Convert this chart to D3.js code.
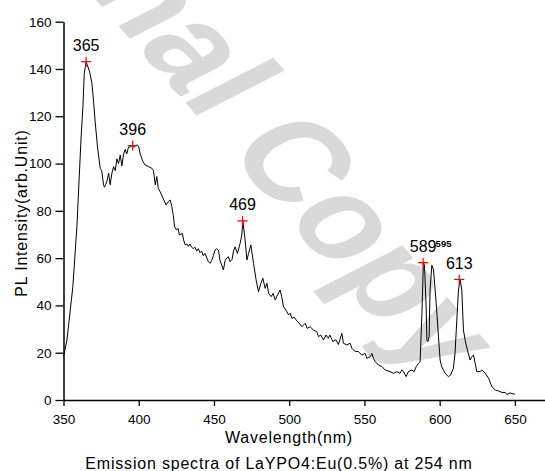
<!DOCTYPE html>
<html>
<head>
<meta charset="utf-8">
<script src="https://cdn.jsdelivr.net/npm/d3@7"></script>
<style>
  html, body { margin: 0; padding: 0; background: #fff; }
  svg { display: block; font-family: Arial, 'Liberation Sans', sans-serif; }
</style>
</head>
<body>
<div id="chart"></div>
<script>
// spectrum
const wavelength = [
  350, 352.3, 356.2, 358.9, 361.6, 362.9, 363.8, 365, 367.3, 368.9, 370, 371, 372.6, 374.4, 375.4,
  376.6, 377.2, 378.8, 380, 381, 382.2, 383.3, 384.4, 385.5, 386.6, 387.7, 388.8, 389.9, 391, 392,
  393.2, 394.3, 395.4, 396.9, 398.8, 399.9, 401, 402.8, 404.3, 406.5, 408.7, 409.8, 411, 412, 413,
  414.3, 416.4, 418.2, 419.8, 420.9, 422, 423, 423.8, 425, 426.2, 427, 429, 429.8, 430.9, 432, 433,
  434, 435.2, 436.3, 437.4, 438.5, 439.6, 440.7, 441.8, 442.9, 444, 445.3, 446.3, 447.4, 448.5,
  449.6, 450.8, 451.8, 453, 454, 455.2, 456.3, 457.4, 458.5, 459.6, 460.7, 462, 463, 464, 465.6,
  467.4, 468.5, 469.2, 470.7, 471.9, 473, 474.5, 476.3, 478, 479.6, 481.2, 482.5, 484, 485.2, 486.3,
  488, 489.3, 490.7, 492.2, 494, 495, 496.2, 498.4, 499.6, 500.7, 501.8, 503.3, 505, 506.8, 508.4,
  510.6, 512, 513.9, 516.1, 518.3, 519.5, 521, 522.8, 524.5, 526, 527, 529, 531, 532.7, 535, 536,
  538.3, 540.5, 541.6, 543.8, 546, 548.3, 550.5, 551.6, 553.8, 555, 556, 557.2, 559.3, 561.6, 563.8,
  567, 569.3, 571.5, 573.7, 574.8, 576, 577.7, 579.2, 581.5, 583, 584.4, 585.9, 587, 588.2, 589.2,
  589.9, 591, 591.5, 592.2, 593, 593.6, 594.8, 595.9, 597.7, 599.2, 600.3, 601.4, 603.6, 605.8, 607.3,
  609.1, 610.2, 611.4, 612.5, 613.6, 614.7, 615.8, 617, 618.5, 620.2, 621.3, 622.5, 623.6, 624.7, 627,
  628, 630.3, 632.5, 634.7, 637, 639.2, 641.4, 643.6, 644.7, 646.9, 650
];
const intensity = [
  18.3, 25.4, 47.9, 73.3, 110, 124, 138, 143.1, 139, 134, 126, 118, 107, 98, 97,
  91, 90, 92.3, 96, 91, 96, 98.7, 97, 102, 100, 103.6, 99, 104, 106, 104,
  107, 107, 107.4, 107, 107.9, 107.4, 104, 100.8, 99.4, 98.7, 98, 97, 91, 94.5, 89.5,
  88, 85, 82.5, 84, 84.6, 81.8, 78, 73.3, 72, 72.5, 69.8, 70.5, 67.7, 65.6, 66, 65,
  66, 64.6, 64, 64.6, 63, 64, 62.3, 63, 61, 62, 60, 58.5, 57.8, 59,
  61, 63.5, 64, 63.4, 59, 57, 55, 59, 60, 60.6, 58.5, 59.4, 63, 64.8, 62,
  66.3, 69.8, 75.8, 67.7, 59.2, 62, 65.6, 57.8, 50.8, 45.8, 49.4, 51.5, 47.2, 49.4, 45.1,
  43.7, 45.1, 42.3, 44.4, 46.5, 43.7, 39.5, 37.4, 36, 36.7, 34.5, 35, 33.5, 32.4, 31,
  32.4, 30.3, 31, 29.6, 28.9, 26.8, 27.5, 25.4, 27.5, 26.1, 27.5, 24.7, 25.5, 23.5, 28.2, 24,
  23.3, 24, 21.9, 20.5, 20.5, 19, 19.7, 17.6, 18.3, 19.7, 17.6, 16.2, 14.8, 14.1, 12.7,
  12, 11.3, 12, 11.3, 12.7, 12, 9.9, 12, 12.7, 12, 14.1, 15.5, 16.2, 36.7, 58.1,
  57, 39.5, 25.4, 24.7, 26.8, 46.5, 57, 55, 40.9, 26.8, 16.9, 14, 11.3, 9.9, 10.6,
  13.4, 19.7, 33.8, 46.5, 51, 46.5, 29.6, 25, 21, 16.9, 18.3, 19, 15.5, 12, 12,
  12.7, 11.3, 9.2, 5.6, 4.2, 3.8, 3.2, 3.2, 2.3, 3, 2.4
];

// marked peaks
const peakWavelengths = [365, 396, 469, 589, 613];
const peakIntensities = [143.1, 107.6, 75.8, 58.1, 51];
const peakLabels = ['365', '396', '469', '589', '613'];
const sideLabel = '595';

// axes
const xTicks = [350, 400, 450, 500, 550, 600, 650];
const xMinorTicks = [375, 425, 475, 525, 575, 625];
const yTicks = [0, 20, 40, 60, 80, 100, 120, 140, 160];
const yMinorTicks = [10, 30, 50, 70, 90, 110, 130, 150];

const xTitle = 'Wavelength(nm)';
const yTitle = 'PL Intensity(arb.Unit)';
const caption = 'Emission spectra of LaYPO4:Eu(0.5%) at 254 nm';
const watermark = 'Original Copy';

const width = 545;
const height = 471;

const svg = d3
  .select('#chart')
  .append('svg')
  .attr('width', width)
  .attr('height', height);

svg.append('rect').attr('width', width).attr('height', height).attr('fill', '#fff');

/* Watermark (rotated, then squashed vertically like the source image)
=========================================================================*/
svg
  .append('text')
  .attr('transform', 'translate(-103.7,-229.3) scale(1,0.766) rotate(56.3)')
  .attr('font-size', 146)
  .attr('font-weight', 'bold')
  .attr('fill', '#d9d9d9')
  .text(watermark);

/* Scales
=========================================================================*/
const xScale = d3.scaleLinear().domain([350, 670]).range([63.5, 545]);
const yScale = d3.scaleLinear().domain([0, 160]).range([400, 21.7]);

/* X Axis
=========================================================================*/
const xAxis = svg.append('g').attr('transform', 'translate(0,400)');
xAxis.call(
  d3.axisBottom(xScale).tickValues(xMinorTicks).tickFormat('').tickSize(4).tickSizeOuter(0)
);
xAxis.call(
  d3.axisBottom(xScale).tickValues(xTicks).tickFormat(d3.format('d')).tickSize(6).tickSizeOuter(0).tickPadding(8)
);

/* Y Axis
=========================================================================*/
const yAxis = svg.append('g').attr('transform', 'translate(63.5,0)');
yAxis.call(
  d3.axisLeft(yScale).tickValues(yMinorTicks).tickFormat('').tickSize(5).tickSizeOuter(0)
);
yAxis.call(
  d3.axisLeft(yScale).tickValues(yTicks).tickFormat(d3.format('d')).tickSize(8).tickSizeOuter(0).tickPadding(4)
);

svg.selectAll('.domain').attr('stroke', '#000').attr('stroke-width', 1.5);
svg.selectAll('.tick line').attr('stroke', '#000').attr('stroke-width', 1.3);
svg
  .selectAll('.tick text')
  .attr('fill', '#000')
  .attr('font-size', 13.5)
  .attr('font-family', "Arial, 'Liberation Sans', sans-serif");

/* Curve
=========================================================================*/
const points = wavelength.map((w, i) => [w, intensity[i]]);

const line = d3
  .line()
  .x(([w]) => xScale(w))
  .y(([, v]) => yScale(v));

svg
  .append('path')
  .datum(points)
  .attr('d', line)
  .attr('fill', 'none')
  .attr('stroke', '#000')
  .attr('stroke-width', 1)
  .attr('stroke-linejoin', 'round');

/* Peaks
=========================================================================*/
const peaks = peakWavelengths.map((w, i) => ({ w, v: peakIntensities[i], label: peakLabels[i] }));

const peakGroup = svg
  .selectAll('g.peak')
  .data(peaks)
  .enter()
  .append('g')
  .attr('class', 'peak')
  .attr('transform', (d) => `translate(${xScale(d.w)},${yScale(d.v)})`);

peakGroup
  .append('path')
  .attr('d', 'M-5,0H5M0,-5V5')
  .attr('stroke', '#ff0000')
  .attr('stroke-width', 1.2);

peakGroup
  .append('text')
  .attr('y', -10.5)
  .attr('text-anchor', 'middle')
  .attr('font-size', 16)
  .text((d) => d.label);

svg
  .append('text')
  .attr('x', xScale(589) + 12.5)
  .attr('y', yScale(58.1) - 15.5)
  .attr('font-size', 9.5)
  .attr('font-weight', 'bold')
  .text(sideLabel);

/* Titles
=========================================================================*/
svg
  .append('text')
  .attr('x', 289)
  .attr('y', 443)
  .attr('text-anchor', 'middle')
  .attr('font-size', 16)
  .attr('letter-spacing', 0.8)
  .text(xTitle);

svg
  .append('text')
  .attr('transform', 'translate(27,213) rotate(-90)')
  .attr('text-anchor', 'middle')
  .attr('font-size', 16)
  .attr('letter-spacing', 0.8)
  .text(yTitle);

svg
  .append('text')
  .attr('x', 279)
  .attr('y', 468.5)
  .attr('text-anchor', 'middle')
  .attr('font-size', 16)
  .attr('letter-spacing', 0.8)
  .text(caption);
</script>
</body>
</html>
